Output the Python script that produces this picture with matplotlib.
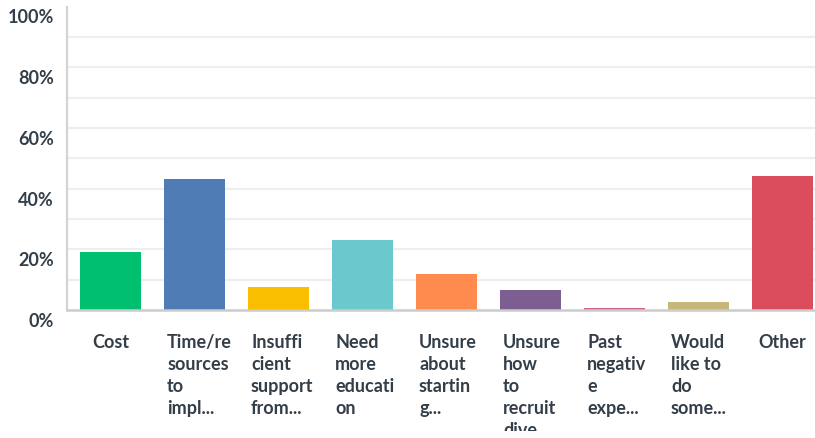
import matplotlib
matplotlib.use("Agg")
import matplotlib.pyplot as plt
from matplotlib.transforms import ScaledTranslation, Bbox, TransformedBbox, blended_transform_factory

categories = [
    "Cost",
    "Time/re\nsources\nto\nimpl...",
    "Insuffi\ncient\nsupport\nfrom...",
    "Need\nmore\neducati\non",
    "Unsure\nabout\nstartin\ng...",
    "Unsure\nhow\nto\nrecruit\ndive",
    "Past\nnegativ\ne\nexpe...",
    "Would\nlike to\ndo\nsome...",
    "Other",
]
values = [19.1, 43.1, 7.6, 23.0, 11.8, 6.6, 0.7, 2.6, 44.1]
colors = ["#00BF6F", "#507CB6", "#F9BE00", "#6BC8CD", "#FF8B4F",
          "#7D5E90", "#D25F90", "#C7B879", "#DB4D5C"]
y_ticks = [0, 20, 40, 60, 80, 100]
y_tick_labels = ["0%", "20%", "40%", "60%", "80%", "100%"]
grid_levels = [10, 20, 30, 40, 50, 60, 70, 80, 90]

TEXT = "#333E48"
BAR_WIDTH = 0.726
plt.rcParams["font.family"] = ["Lato", "DejaVu Sans"]

W, H = 815, 439
fig = plt.figure(figsize=(W / 100, H / 100), dpi=100)
left = 67 / W
bottom = (H - 311) / H
top = (H - 7.5) / H
ax = fig.add_axes([left, bottom, 1 - left, top - bottom])

x = list(range(len(categories)))
ax.set_xlim(-0.518, 8.387)
ax.set_ylim(0, 100)

for g in grid_levels:
    ax.axhline(g, color="#EEEEEE", lw=1.6, zorder=0)

ax.bar(x, values, width=BAR_WIDTH, color=colors, zorder=2)

for side in ("top", "right"):
    ax.spines[side].set_visible(False)
ax.spines["left"].set_color("#D4D4D4")
ax.spines["left"].set_linewidth(1.6)
ax.spines["bottom"].set_color("#CCCCCC")
ax.spines["bottom"].set_linewidth(1.8)
ax.spines["bottom"].set_zorder(3)

ax.set_yticks(y_ticks)
ax.set_yticklabels(y_tick_labels, fontsize=13, fontweight="bold", color=TEXT)
ax.tick_params(axis="y", length=0, pad=9.4)
shift = ScaledTranslation(0, -9 / 100, fig.dpi_scale_trans)
for lab in ax.get_yticklabels():
    lab.set_transform(lab.get_transform() + shift)

# category labels under the bars, cut off at the bottom of the chart area
ax.set_xticks([])
base_tf = blended_transform_factory(ax.transData, ax.transAxes)
centered_tf = base_tf + ScaledTranslation(0, -23 / 100, fig.dpi_scale_trans)
wrapped_tf = base_tf + ScaledTranslation(3 / 100, -23 / 100, fig.dpi_scale_trans)
clip = TransformedBbox(Bbox([[0, 7 / H], [1, 1]]), fig.transFigure)
for xi, name in zip(x, categories):
    if "\n" in name:
        t = ax.text(xi - BAR_WIDTH / 2, 0, name, transform=wrapped_tf,
                    ha="left", va="top")
    else:
        t = ax.text(xi, 0, name, transform=centered_tf, ha="center", va="top")
    t.set(fontsize=13, fontweight="bold", color=TEXT, linespacing=1.36,
          clip_on=True)
    t.set_clip_box(clip)

fig.savefig("out.png", dpi=100, facecolor="white")
